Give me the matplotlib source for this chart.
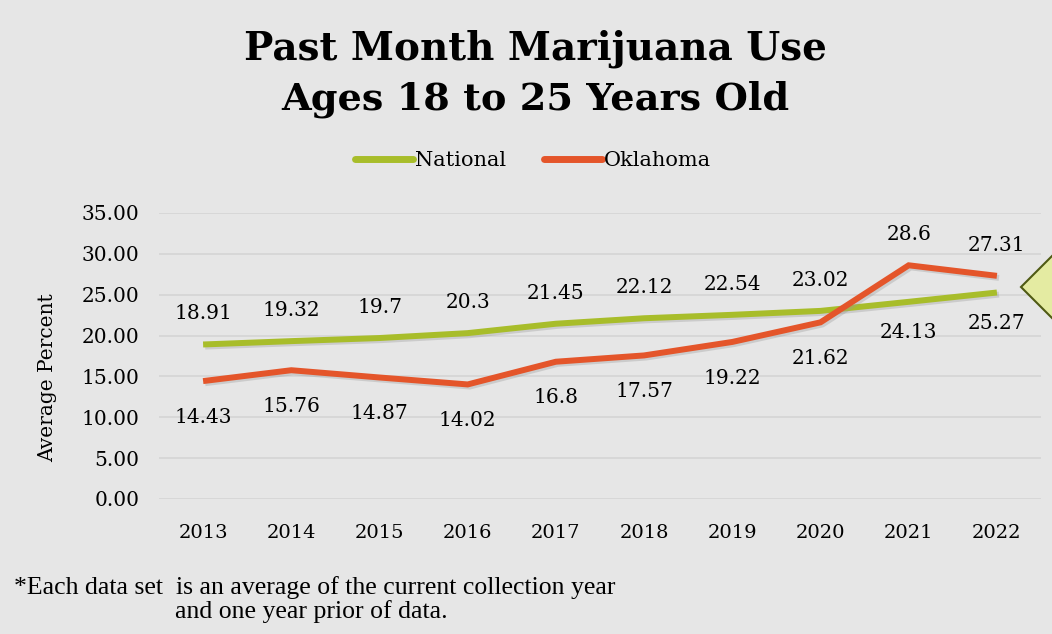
import matplotlib
matplotlib.use("Agg")
import matplotlib.pyplot as plt
import matplotlib.patheffects as pe
from matplotlib.patches import Polygon

years = ["2013", "2014", "2015", "2016", "2017", "2018", "2019", "2020", "2021", "2022"]
national = [18.91, 19.32, 19.7, 20.3, 21.45, 22.12, 22.54, 23.02, 24.13, 25.27]
oklahoma = [14.43, 15.76, 14.87, 14.02, 16.8, 17.57, 19.22, 21.62, 28.6, 27.31]
nat_labels = ["18.91", "19.32", "19.7", "20.3", "21.45", "22.12", "22.54", "23.02", "24.13", "25.27"]
ok_labels = ["14.43", "15.76", "14.87", "14.02", "16.8", "17.57", "19.22", "21.62", "28.6", "27.31"]
yticks = [0, 5, 10, 15, 20, 25, 30, 35]

BG = "#e6e6e6"
GREEN = "#a8bd2a"
ORANGE = "#e4552a"
SERIF = "DejaVu Serif"

fig = plt.figure(figsize=(10.52, 6.34), dpi=100, facecolor=BG)
ax = fig.add_axes([159 / 1052, 1 - 499 / 634, (1041 - 159) / 1052, (499 - 213) / 634])
ax.set_facecolor(BG)

x = list(range(len(years)))
shadow = [pe.SimpleLineShadow(offset=(1.5, -1.5), shadow_color="#9a9a9a", alpha=0.35), pe.Normal()]
ax.plot(x, national, color=GREEN, lw=4.3, solid_capstyle="butt", solid_joinstyle="miter",
        label="National", zorder=3, path_effects=shadow)
ax.plot(x, oklahoma, color=ORANGE, lw=4.3, solid_capstyle="butt", solid_joinstyle="miter",
        label="Oklahoma", zorder=3, path_effects=shadow)

ax.set_xlim(-0.5, len(years) - 0.5)
ax.set_ylim(0, 35)
ax.set_yticks(yticks)
ax.set_yticklabels([f"{v:.2f}" for v in yticks], fontsize=14.5, family=SERIF)
ax.set_xticks(x)
ax.set_xticklabels(years, fontsize=14, family=SERIF)
ax.tick_params(length=0, pad=14, axis="y")
ax.tick_params(length=0, pad=18, axis="x")
ax.grid(axis="y", color="#d5d5d5", lw=1.2)
ax.set_axisbelow(True)
for s in ax.spines.values():
    s.set_visible(False)

for i in x:
    nat_above = national[i] >= oklahoma[i]
    ax.annotate(nat_labels[i], (i, national[i]), xytext=(0, 22 if nat_above else -22),
                textcoords="offset points", ha="center", va="center", fontsize=14.5, family=SERIF)
    ax.annotate(ok_labels[i], (i, oklahoma[i]), xytext=(0, -26 if nat_above else 22),
                textcoords="offset points", ha="center", va="center", fontsize=14.5, family=SERIF)

fig.text(48 / 1052, 1 - 378 / 634, "Average Percent", rotation=90, ha="center", va="center",
         fontsize=14.5, family=SERIF)

fig.text(535 / 1052, 1 - 49 / 634, "Past Month Marijuana Use", ha="center", va="center",
         fontsize=28, fontweight="bold", family=SERIF)
fig.text(535 / 1052, 1 - 99 / 634, "Ages 18 to 25 Years Old", ha="center", va="center",
         fontsize=27.5, fontweight="bold", family=SERIF)

leg = fig.legend(loc="center", bbox_to_anchor=(533 / 1052, 1 - 161 / 634), ncol=2, frameon=False,
                 prop={"family": SERIF, "size": 15}, handlelength=2.8, handletextpad=0.1,
                 columnspacing=1.8)
for h in leg.get_lines():
    h.set_solid_capstyle("round")
    h.set_path_effects([])
    h.set_linewidth(5)

fig.text(14 / 1052, 1 - 588 / 634, "*Each data set  is an average of the current collection year",
         ha="left", va="center", fontsize=18.5, family="Liberation Serif")
fig.text(175 / 1052, 1 - 612 / 634, "and one year prior of data.",
         ha="left", va="center", fontsize=18.5, family="Liberation Serif")

arrow = Polygon([(1021 / 1052, 1 - 287 / 634), (1060 / 1052, 1 - 248 / 634),
                 (1060 / 1052, 1 - 326 / 634)], closed=True, transform=fig.transFigure,
                facecolor="#e4eba2", edgecolor="#4f5a14", lw=1.5)
fig.patches.append(arrow)

fig.savefig("out.png", dpi=100, facecolor=BG)
